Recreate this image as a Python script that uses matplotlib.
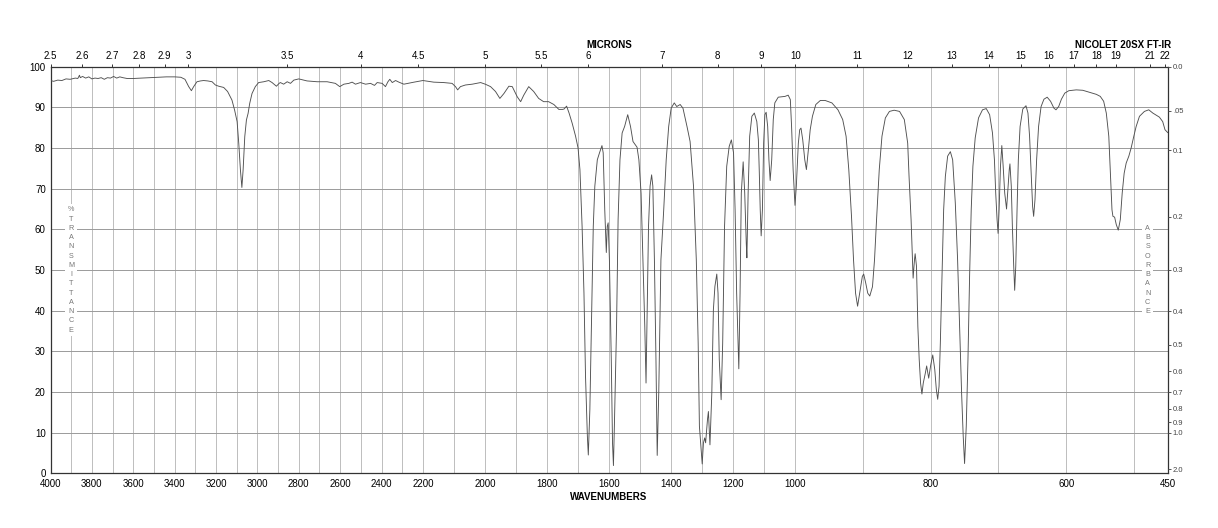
import numpy as np
import matplotlib
matplotlib.use("Agg")
import matplotlib.pyplot as plt

plt.rcParams['font.family'] = ['Liberation Sans', 'DejaVu Sans']

# ---------------- data (wavenumber cm-1, %T) ----------------
wn_high = [4000, 3985, 3965, 3945, 3925, 3905, 3880, 3868, 3860, 3856, 3845, 3830, 3815,
           3800, 3785, 3770, 3755, 3740, 3725, 3710, 3695, 3680, 3665, 3650, 3630, 3600,
           3560, 3520, 3480, 3440, 3400, 3370, 3350, 3332, 3319, 3308, 3292, 3275, 3260,
           3240, 3219, 3203, 3187, 3163, 3144, 3123, 3110, 3098, 3090, 3082, 3075, 3069,
           3061, 3053, 3045, 3037, 3026, 3010, 2994, 2969, 2945, 2929, 2908, 2895, 2889,
           2873, 2856, 2840, 2824, 2800, 2760, 2711, 2663, 2623, 2602, 2582, 2558, 2542,
           2526, 2502, 2477, 2453, 2434, 2421, 2397, 2381, 2369, 2360, 2348, 2332, 2316,
           2292, 2243, 2200]
t_high = [96.6, 96.4, 96.7, 96.6, 97.0, 96.9, 97.2, 97.1, 97.9, 97.3, 97.6, 97.2, 97.5,
          97.0, 97.2, 97.1, 97.3, 96.9, 97.3, 97.2, 97.6, 97.2, 97.5, 97.3, 97.1, 97.1,
          97.2, 97.3, 97.4, 97.5, 97.5, 97.4, 96.9, 95.1, 94.1, 95.1, 96.3, 96.5, 96.6,
          96.5, 96.3, 95.5, 95.2, 94.9, 93.9, 91.8, 89.3, 86.5, 81.1, 74.6, 70.3, 74.6,
          82.8, 86.9, 88.5, 91.0, 93.4, 95.1, 96.1, 96.3, 96.6, 96.1, 95.2, 95.9, 96.1,
          95.7, 96.3, 95.9, 96.7, 97.0, 96.5, 96.3, 96.3, 95.9, 95.1, 95.7, 95.9, 96.2,
          95.7, 96.1, 95.7, 95.9, 95.4, 96.1, 95.9, 95.1, 96.3, 96.9, 96.1, 96.6, 96.2,
          95.7, 96.2, 96.6]

wn_mid = [2165, 2133, 2106, 2095, 2088, 2079, 2063, 2041, 2014, 1999, 1982, 1966, 1952,
          1939, 1923, 1912, 1896, 1885, 1875, 1859, 1843, 1827, 1811, 1795, 1778, 1762,
          1750, 1745, 1737, 1729, 1719, 1708, 1700, 1694, 1687, 1681, 1676, 1670, 1667,
          1662, 1656, 1651, 1646, 1638, 1631, 1623, 1619, 1614, 1609, 1606, 1603, 1599,
          1593, 1589, 1586, 1583, 1576, 1571, 1565, 1558, 1550, 1540, 1531, 1523, 1510,
          1504, 1497, 1491, 1485, 1481, 1478, 1473, 1468, 1463, 1459, 1454, 1449, 1445,
          1440, 1433, 1424, 1416, 1408, 1400, 1390, 1382, 1371, 1362, 1349, 1339, 1328,
          1319, 1313, 1309, 1300, 1296, 1292, 1289, 1283, 1280, 1275, 1269, 1264, 1259,
          1253, 1249, 1245, 1239, 1234, 1228, 1221, 1213, 1206, 1199, 1194, 1189, 1182,
          1178, 1174, 1168, 1163, 1158, 1156, 1152, 1147, 1140, 1132, 1124, 1119, 1116,
          1113, 1110, 1106, 1102, 1098, 1094, 1089, 1085, 1081, 1076, 1071, 1066, 1055,
          1033, 1023, 1016, 1012, 1007, 1001]
t_mid = [96.2, 96.1, 95.9, 95.1, 94.3, 95.1, 95.5, 95.7, 96.1, 95.7, 95.1, 93.9, 92.2,
         93.4, 95.2, 95.1, 92.6, 91.4, 93.0, 95.1, 93.9, 92.2, 91.4, 91.4, 90.7, 89.5,
         89.5, 89.6, 90.3, 88.6, 86.1, 82.9, 80.0, 74.7, 60.7, 44.3, 23.9, 9.1, 4.5,
         15.7, 40.2, 60.7, 70.6, 77.1, 78.8, 80.6, 78.8, 64.8, 54.3, 60.7, 61.6, 52.5,
         28.0, 7.5, 1.9, 11.6, 36.1, 62.4, 77.1, 83.7, 85.3, 88.2, 85.3, 81.6, 80.2,
         77.1, 68.9, 52.5, 36.1, 22.2, 36.1, 60.7, 70.6, 73.4, 70.6, 52.5, 28.0, 4.4,
         19.8, 52.5, 64.8, 77.1, 85.3, 89.8, 91.1, 90.2, 90.7, 89.8, 85.3, 81.6, 70.6,
         52.5, 32.0, 11.6, 2.3, 7.5, 8.7, 7.5, 13.2, 15.2, 7.0, 19.8, 40.2, 46.0,
         49.0, 44.3, 28.0, 18.1, 32.0, 60.7, 75.5, 80.4, 82.0, 78.8, 64.8, 44.3, 25.7,
         44.3, 68.9, 76.6, 68.9, 56.6, 53.0, 68.9, 82.9, 87.8, 88.6, 86.5, 82.0, 74.0,
         64.8, 58.4, 64.8, 81.2, 88.2, 88.8, 85.3, 77.1, 72.0, 77.1, 87.0, 91.1, 92.5,
         92.7, 93.0, 91.9, 85.3, 74.7, 65.9]

wn_low = [998.5, 995.5, 993.5, 991.6, 989, 986, 983.6, 980.7, 978, 974.7, 969.7, 963, 956,
          946, 937, 930, 925, 921, 917, 914, 911, 908, 905, 901, 899, 896, 893, 890, 886,
          883, 880, 876, 872, 867, 861, 854, 846, 839, 834, 832, 829, 827, 826, 824, 823,
          821, 819, 817, 815, 813, 811, 808, 806, 803, 800, 797, 794, 791.7, 789.7, 787.7,
          785.8, 783.3, 780.9, 778.4, 775, 771, 767.6, 763.7, 760.3, 757.4, 754.4, 752,
          750, 747.5, 745, 742.6, 740.2, 737.7, 734.3, 729.4, 723.5, 718, 713, 708.8,
          705.9, 704, 702, 700.5, 699, 697, 695, 693, 690.7, 688, 686, 684, 683, 681,
          679.4, 677.4, 676, 674.4, 672.5, 670.6, 668, 664, 659.3, 656.4, 654, 651.5,
          649.5, 648, 646, 643.6, 640.7, 637, 632.8, 628, 623, 618, 615, 611, 607, 602,
          596, 585, 575.4, 565.2, 555.4, 549.6, 544.6, 540.7, 537, 534.8, 532.3, 530.9,
          528.4, 526, 523, 520, 517.2, 514.3, 511.3, 507.4, 504, 500.6, 496.6, 491.7,
          484.4, 478, 472, 462.3, 457.4, 454, 450]
t_low = [70.6, 81.2, 84.5, 84.9, 82.0, 77.1, 74.7, 79.6, 84.5, 87.8, 90.7, 91.7, 91.7,
         91.1, 89.4, 87.0, 82.9, 74.7, 63.2, 52.5, 44.3, 41.1, 44.3, 48.4, 49.0, 46.8,
         44.3, 43.6, 45.9, 52.5, 62.4, 74.7, 82.9, 87.4, 89.0, 89.3, 89.0, 87.0, 81.2,
         73.0, 62.4, 52.5, 48.0, 52.5, 54.0, 50.9, 36.1, 28.0, 22.2, 19.5, 22.2, 24.6,
         26.4, 23.4, 26.6, 29.1, 25.5, 20.6, 18.2, 21.4, 32.0, 48.4, 64.8, 73.0, 78.0,
         79.1, 77.1, 66.5, 52.5, 36.1, 19.8, 9.1, 2.4, 11.6, 28.0, 48.4, 64.8, 75.5,
         82.5, 87.4, 89.4, 89.7, 88.2, 83.7, 77.1, 68.9, 62.4, 59.0, 64.8, 75.5, 80.6,
         75.5, 68.9, 65.0, 69.8, 74.7, 76.1, 70.6, 60.7, 50.9, 45.0, 50.9, 64.8, 77.1,
         85.3, 89.6, 90.4, 88.6, 82.9, 73.0, 65.6, 63.2, 67.3, 77.1, 85.3, 90.2, 92.0,
         92.5, 91.5, 89.8, 89.4, 90.2, 92.0, 93.5, 94.1, 94.3, 94.2, 93.7, 93.2, 92.7,
         91.5, 88.6, 82.9, 74.7, 64.8, 63.2, 63.0, 61.2, 59.8, 62.4, 68.9, 73.8, 76.3,
         78.0, 80.0, 82.5, 85.3, 87.8, 89.0, 89.4, 88.6, 87.6, 86.5, 84.5, 83.8]

bottom_ticks = [4000, 3800, 3600, 3400, 3200, 3000, 2800, 2600, 2400, 2200, 2000, 1800,
                1600, 1400, 1200, 1000, 800, 600, 450]
micron_ticks = [2.5, 2.6, 2.7, 2.8, 2.9, 3, 3.5, 4, 4.5, 5, 5.5, 6, 7, 8, 9, 10, 11, 12,
                13, 14, 15, 16, 17, 18, 19, 21, 22]
micron_labels = ['2.5', '2.6', '2.7', '2.8', '2.9', '3', '3.5', '4', '4.5', '5', '5.5', '6',
                 '7', '8', '9', '10', '11', '12', '13', '14', '15', '16', '17', '18', '19',
                 '21', '22']
abs_ticks = [0.0, 0.05, 0.1, 0.2, 0.3, 0.4, 0.5, 0.6, 0.7, 0.8, 0.9, 1.0, 2.0]
abs_labels = ['0.0', '.05', '0.1', '0.2', '0.3', '0.4', '0.5', '0.6', '0.7', '0.8', '0.9',
              '1.0', '2.0']
t_ticks = list(range(0, 101, 10))

wn = np.array(wn_high + wn_mid + wn_low, float)
tr = np.array(t_high + t_mid + t_low, float)


# ---------------- piecewise wavenumber scale (3 equal panels) ----------------
def fwd(w):
    w = np.asarray(w, float)
    return np.where(w >= 2200, -(4000.0 - w) / 1800.0,
                    np.where(w >= 1000, -1.0 - (2200.0 - w) / 1200.0,
                             -2.0 - (1000.0 - w) / 550.0))


def inv(p):
    p = np.asarray(p, float)
    return np.where(p >= -1, 4000.0 + p * 1800.0,
                    np.where(p >= -2, 2200.0 + (p + 1.0) * 1200.0,
                             1000.0 + (p + 2.0) * 550.0))


W, H = 1218, 528
fig = plt.figure(figsize=(W / 100, H / 100), dpi=100)
x0, x1, y0, y1 = 50.5, 1167.7, 66.7, 473.3
ax = fig.add_axes([x0 / W, (H - y1) / H, (x1 - x0) / W, (y1 - y0) / H])

ax.set_xscale('function', functions=(fwd, inv))
ax.set_xlim(4000, 450)
ax.set_ylim(0, 100)

ax.plot(wn, tr, color='#505050', lw=0.65, zorder=3)

# grid
ax.set_xticks(bottom_ticks)
ax.set_xticklabels([str(t) for t in bottom_ticks])
ax.set_xticks(np.arange(500, 4000, 100), minor=True)
ax.set_yticks(t_ticks)
ax.set_yticklabels([str(t) for t in t_ticks])
ax.grid(True, axis='x', which='both', color='#bdbdbd', lw=0.7, zorder=0)
ax.grid(True, axis='y', which='major', color='#9a9a9a', lw=0.7, zorder=0)
ax.set_axisbelow(True)
ax.tick_params(axis='x', which='both', length=0, pad=4.2, labelsize=7)
ax.tick_params(axis='y', which='both', length=0, pad=3.4, labelsize=7)
for s in ax.spines.values():
    s.set_color('#333333')
    s.set_linewidth(0.9)

# top micron axis
axt = ax.twiny()
axt.set_xscale('function', functions=(fwd, inv))
axt.set_xlim(4000, 450)
axt.set_xticks([10000.0 / m for m in micron_ticks])
axt.set_xticklabels(micron_labels)
axt.set_xticks([], minor=True)
axt.tick_params(axis='x', which='major', length=2.2, width=0.7, pad=1.6, labelsize=7,
                color='#333333')
for s in axt.spines.values():
    s.set_visible(False)

# right absorbance axis
axr = ax.twinx()
axr.set_ylim(0, 100)
axr.set_yticks([100.0 * 10 ** (-a) for a in abs_ticks])
axr.set_yticklabels(abs_labels)
axr.tick_params(axis='y', length=2.2, width=0.7, pad=1.5, labelsize=5.5,
                labelcolor='#444444', color='#555555')
for s in axr.spines.values():
    s.set_visible(False)

# vertical side labels
side_kw = dict(ha='center', va='center', fontsize=5.2, color='#777777', linespacing=1.45,
               transform=ax.transAxes, zorder=2,
               bbox=dict(facecolor='white', edgecolor='none', pad=1.8))
ax.text((71 - x0) / (x1 - x0), 0.5, '\n'.join('%TRANSMITTANCE'), **side_kw)
ax.text((1147.7 - x0) / (x1 - x0), 0.5, '\n'.join('ABSORBANCE'), **side_kw)

# titles
fig.text(609 / W, 1 - 45 / H, 'MICRONS', ha='center', va='center', fontsize=7,
         fontweight='bold')
fig.text(1171 / W, 1 - 45 / H, 'NICOLET 20SX FT-IR', ha='right', va='center', fontsize=7,
         fontweight='bold')
fig.text(608.7 / W, 1 - 496.7 / H, 'WAVENUMBERS', ha='center', va='center', fontsize=7,
         fontweight='bold')

fig.savefig('out.png', dpi=100)
